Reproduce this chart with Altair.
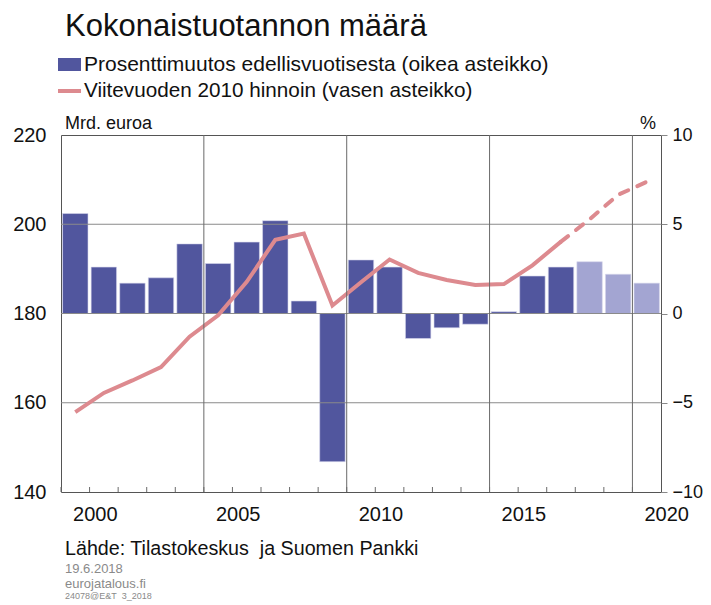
import altair as alt
import pandas as pd

years = list(range(2000, 2021))
growth = [5.6, 2.6, 1.7, 2.0, 3.9, 2.8, 4.0, 5.2, 0.7, -8.3, 3.0, 2.6, -1.4, -0.8, -0.6, 0.1, 2.1, 2.6, 2.9, 2.2, 1.7]
level = [157.9, 162.2, 165.0, 168.0, 174.8, 179.6, 187.1, 196.5, 197.9, 181.8, 187.0,
         192.1, 189.1, 187.5, 186.4, 186.6, 190.8, 196.1, 201.1, 206.6, 209.5]
first_forecast = 2018
x_labels = [2000, 2005, 2010, 2015, 2020]
left_ticks = [140, 160, 180, 200, 220]
right_ticks = [-10, -5, 0, 5, 10]

title = "Kokonaistuotannon määrä"
leg_bar = "Prosenttimuutos edellisvuotisesta (oikea asteikko)"
leg_line = "Viitevuoden 2010 hinnoin (vasen asteikko)"
left_unit = "Mrd. euroa"
right_unit = "%"
source = "Lähde: Tilastokeskus\u00a0 ja Suomen Pankki"
date = "19.6.2018"
site = "eurojatalous.fi"
code = "24078@E&T\u00a0 3_2018"

DARK = "#51569e"
LIGHT = "#a3a5d2"
PINK = "#dd8a8f"
FONT = "Liberation Sans"
W, H = 600, 357
LABEL_SHIFT = 0.7

bars = pd.DataFrame({
    "year": years,
    "x1": [y - 0.445 for y in years],
    "x2": [y + 0.445 for y in years],
    "growth": growth,
    "fc": ["f" if y >= first_forecast else "a" for y in years],
})
solid = pd.DataFrame({"year": years[:18], "level": level[:18]})
dashed = pd.DataFrame({"year": years[17:], "level": level[17:]})
vgrid = pd.DataFrame({"x": [2004.5, 2009.5, 2014.5, 2019.5]})
bticks = pd.DataFrame({"x": [y + 0.5 for y in range(1999, 2020)]})
xlab = pd.DataFrame({"pos": [v + LABEL_SHIFT for v in x_labels], "lab": [str(v) for v in x_labels]})

xscale = alt.Scale(domain=[1999.5, 2020.5], nice=False, zero=False)
lscale = alt.Scale(domain=[140, 220], nice=False, zero=False)
rscale = alt.Scale(domain=[-10, 10], nice=False)

laxis = alt.Axis(values=left_ticks, title=None, grid=False, domain=False, ticks=False,
                 labelFontSize=20, labelFont=FONT, labelColor="#111", labelPadding=15, format="d")
raxis = alt.Axis(orient="right", values=right_ticks, title=None, grid=False, domain=False,
                 ticks=True, tickSize=6, tickColor="#888", labelFontSize=18,
                 labelFont=FONT, labelColor="#111", labelPadding=5, format="d")

bar_layer = alt.Chart(bars).mark_bar(stroke="#d8d9ec", strokeWidth=0.6).encode(
    x=alt.X("x1:Q", scale=xscale, axis=None),
    x2="x2:Q",
    y=alt.Y("growth:Q", scale=rscale, axis=raxis),
    y2=alt.datum(0),
    color=alt.Color("fc:N", scale=alt.Scale(domain=["a", "f"], range=[DARK, LIGHT]), legend=None),
)

grid_left = alt.Chart(pd.DataFrame({"v": [160, 180, 200]})).mark_rule(color="#8a8a8a", strokeWidth=1).encode(
    y=alt.Y("v:Q", scale=lscale, axis=laxis),
)

vlines = alt.Chart(vgrid).mark_rule(color="#6a6a6a", strokeWidth=1).encode(
    x=alt.X("x:Q", scale=xscale, axis=None),
)

bt = alt.Chart(bticks).mark_rule(color="#6a6a6a", strokeWidth=1).encode(
    x=alt.X("x:Q", scale=xscale, axis=None),
    y=alt.value(H), y2=alt.value(H - 5),
)

xtext = alt.Chart(xlab).mark_text(font=FONT, fontSize=20, color="#111", align="center",
                                  baseline="middle").encode(
    x=alt.X("pos:Q", scale=xscale, axis=None),
    y=alt.value(H + 23),
    text="lab:N",
)

line_solid = alt.Chart(solid).mark_line(color=PINK, strokeWidth=4, strokeJoin="miter").encode(
    x=alt.X("year:Q", scale=xscale, axis=None),
    y=alt.Y("level:Q", scale=lscale, axis=laxis),
)
line_dash = alt.Chart(dashed).mark_line(color=PINK, strokeWidth=4, strokeDash=[9, 10], strokeCap="round").encode(
    x=alt.X("year:Q", scale=xscale, axis=None),
    y=alt.Y("level:Q", scale=lscale, axis=laxis),
)

one = pd.DataFrame({"k": [0]})


def txt(s, x, y, size, color="#111", align="left", baseline="alphabetic"):
    return alt.Chart(one).mark_text(text=s, font=FONT, fontSize=size, color=color,
                                    align=align, baseline=baseline).encode(
        x=alt.value(x), y=alt.value(y))


texts = [
    txt(title, 4, -99, 31),
    txt(leg_bar, 23, -64, 21),
    txt(leg_line, 23, -38, 20.7),
    txt(left_unit, 4, -6, 18),
    txt(right_unit, 587, -6, 18, align="center"),
    txt(source, 4, 420, 19.7),
    txt(date, 4, 438, 13, color="#8a8a8a"),
    txt(site, 4, 453, 13, color="#8a8a8a"),
    txt(code, 4, 464, 9, color="#8a8a8a"),
]

leg_rect = alt.Chart(one).mark_rect(color=DARK).encode(
    x=alt.value(-3), x2=alt.value(20), y=alt.value(-77), y2=alt.value(-64))
leg_rule = alt.Chart(one).mark_rule(color=PINK, strokeWidth=4).encode(
    x=alt.value(-3), x2=alt.value(20), y=alt.value(-44))

left_part = alt.layer(grid_left, line_solid, line_dash)
chart = alt.layer(
    bar_layer, left_part, vlines, bt, xtext, leg_rect, leg_rule, *texts
).resolve_scale(y="independent").properties(
    width=W, height=H,
    autosize=alt.AutoSizeParams(type="none"),
    padding={"left": 53, "top": 127, "right": 42, "bottom": 110},
).configure_view(stroke="#555", strokeWidth=1)

chart.save("out.html", embed_options={"renderer": "svg", "actions": False})
